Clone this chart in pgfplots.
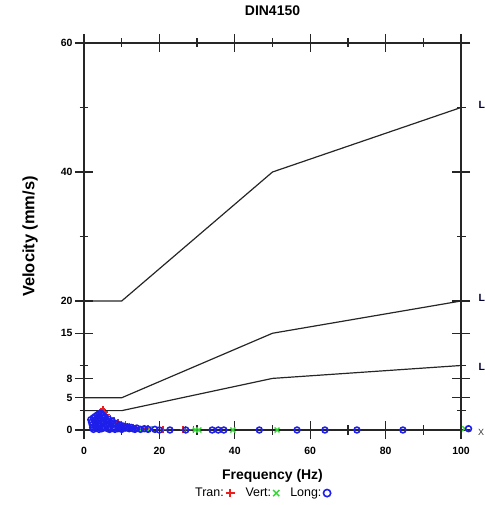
\documentclass[border=0pt]{standalone}
\usepackage{fontspec}
\setmainfont{Liberation Sans}
\usepackage{pgfplots}
\pgfplotsset{compat=1.18}
\definecolor{lgreen}{RGB}{50,215,50}
\definecolor{lblue}{RGB}{30,30,235}
\definecolor{lred}{RGB}{235,30,30}
\begin{document}
\begin{tikzpicture}
\path[use as bounding box] (0,0) rectangle (485bp,505bp);
\begin{axis}[
  at={(84bp,75bp)}, anchor=south west,
  width=377bp, height=387bp, scale only axis,
  xmin=0, xmax=100, ymin=0, ymax=60,
  clip=false,
  axis line style={black!85, line width=1.4bp},
  xtick={0,20,40,60,80,100},
  minor xtick={10,30,50,70,90},
  ytick={0,5,8,15,20,40,60},
  minor ytick={3,10,30,50},
  tick align=center,
  major tick length=18bp, minor tick length=9bp,
  tick style={black!85, line width=1.3bp},
  /pgf/number format/assume math mode=true,
  ticklabel style={font=\bfseries\fontsize{10.5}{12}\selectfont},
  xticklabel style={yshift=-5bp},
  yticklabel style={xshift=1bp},
  title={DIN4150},
  title style={font=\bfseries\fontsize{14}{16}\selectfont, at={(0.5,1.067)}, anchor=center},
  xlabel={Frequency (Hz)},
  xlabel style={font=\bfseries\fontsize{14}{16}\selectfont, at={(0.5,-0.119)}, anchor=center},
  ylabel={Velocity (mm/s)},
  ylabel style={font=\bfseries\fontsize{16.5}{19}\selectfont, at={(-0.143,0.5)}, anchor=center, rotate=0},
  legend columns=3,
  legend plot pos=right,
  legend style={at={(0.472,-0.163)}, anchor=center, draw=none, fill=none,
    font=\fontsize{12.5}{14}\selectfont,
    /tikz/every even column/.append style={column sep=9bp}},
  legend image post style={scale=1.25},
]
\addplot[black!85, line width=1.2bp, forget plot] coordinates {(0,20)(10,20)(50,40)(100,50)};
\addplot[black!85, line width=1.2bp, forget plot] coordinates {(0,5)(10,5)(50,15)(100,20)};
\addplot[black!85, line width=1.2bp, forget plot] coordinates {(0,3)(10,3)(50,8)(100,10)};

\addplot[only marks, mark=+, lred, mark size=3.5bp, line width=1.4bp] coordinates {
(5,3.2)(4.5,2.9)(5.5,2.8)(6,2.4)(4,2.2)(7,1.8)(8,1.4)(9,1.2)(10,0.9)(11,0.8)(12,0.5)(13,0.4)
(14,0.3)(16,0.2)(17,0.2)(21,0.1)(26.3,0.1)(27,0.1)(29,0.1)(3,1.5)(6,1.0)};
\addplot[only marks, mark=x, lgreen, mark size=3.5bp, line width=1.4bp] coordinates {
(6,1.2)(8,0.6)(10,0.4)(12,0.3)(15.4,0.2)(17.5,0.2)(29.5,0)(30.5,0)(39.5,0)(51.2,0)(101,0.2)};
\addplot[only marks, mark=o, lblue, mark size=2.9bp, line width=1.6bp] coordinates {
(1.8,1.6)(2,1.2)(2.2,0.8)(2.3,0.4)(2.5,1.9)(2.8,1.5)(3,2.1)(3,0.9)(3.2,0.3)(3.5,2.3)
(3.6,1.6)(3.8,1.1)(4,2.5)(4,0.6)(4.2,1.9)(4.5,2.6)(4.5,1.4)(4.7,0.2)(5,2.3)(5,1.0)
(5.2,1.8)(5.5,0.5)(5.6,2.0)(6,1.5)(6,0.8)(6.3,0.2)(6.5,1.7)(7,1.2)(7,0.5)(7.5,1.4)
(7.8,0.9)(8,0.3)(8.5,1.0)(9,0.6)(9,0.2)(9.5,0.8)(10,0.4)(10.5,0.6)(11,0.3)(11.5,0.5)
(12,0.2)(12.5,0.4)(13,0.2)(13.5,0.1)(14,0.3)(15,0.1)(16,0.2)(17,0.1)(18.8,0.1)(20,0)
(22.8,0)(27,0)(34,0)(35.6,0)(37.1,0)(46.5,0)(56.5,0)(63.9,0)(72.4,0)(84.6,0)(102,0.2)
(2.5,0.1)(4,0.1)(3,0.6)(5,0.3)(6.8,0.1)(8.2,0.1)(10,0.1)};
\legend{Tran:\hspace{2bp},Vert:\hspace{2bp},Long:\hspace{2bp}}

\node[anchor=west, text=black!80!blue, font=\bfseries\fontsize{10.5}{12}\selectfont] at (axis cs:100,50) [xshift=14bp, yshift=3bp] {L};
\node[anchor=west, text=black!80!blue, font=\bfseries\fontsize{10.5}{12}\selectfont] at (axis cs:100,20) [xshift=14bp, yshift=3bp] {L};
\node[anchor=west, text=black!80!blue, font=\bfseries\fontsize{10.5}{12}\selectfont] at (axis cs:100,10) [xshift=14bp, yshift=-1bp] {L};
\node[anchor=west, inner sep=0pt, text=black!80, font=\fontsize{9}{11}\selectfont] at (axis cs:100,0) [xshift=17bp, yshift=-2bp] {X};
\end{axis}
\end{tikzpicture}
\end{document}
